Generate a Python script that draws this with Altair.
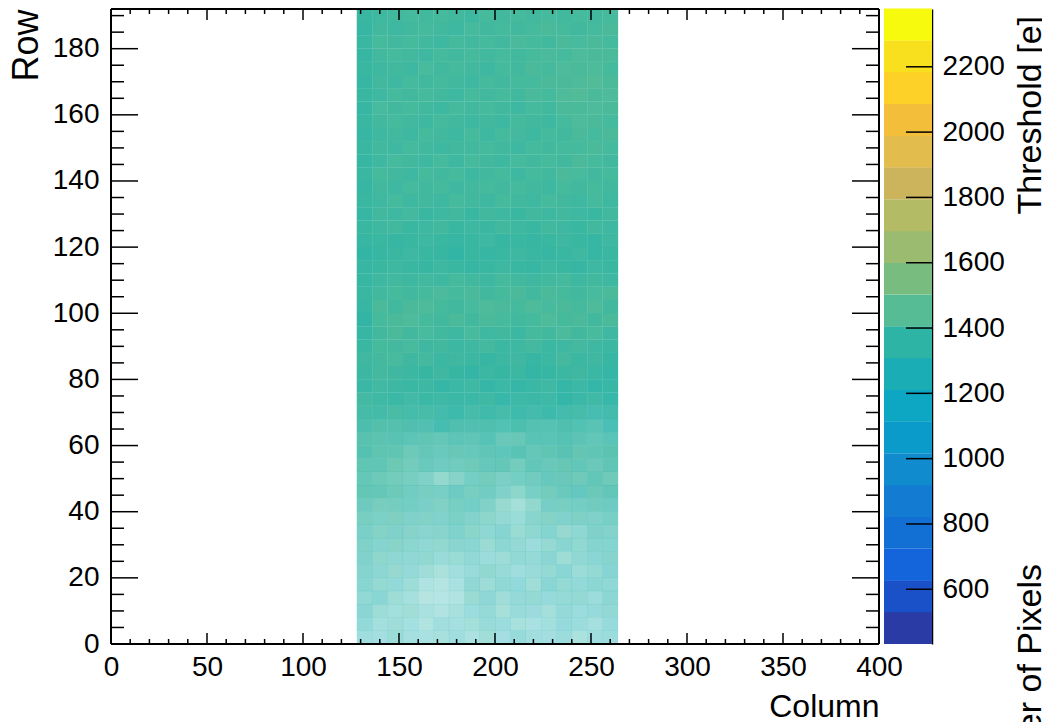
import altair as alt
import pandas as pd

# Colour bar: centre of each 20 band, with the colour
band_centres = [481, 578, 675, 773, 870, 967, 1065, 1162, 1259, 1356,
                1453, 1551, 1648, 1745, 1843, 1940, 2037, 2135, 2232, 2329]
band_colours = ["#2A3BA5", "#1A50C8", "#1464DC", "#1270D5", "#137CD2",
                "#0F8BCE", "#0A9BCA", "#0DA6C3", "#1BADB6", "#2EB4A4",
                "#55BC95", "#78BC80", "#9ABB70", "#B3BB64", "#CBB45C",
                "#E2BC4C", "#F3BE3A", "#FDD127", "#F9E01E", "#F8FA0D"]
bar_ticks = [600, 800, 1000, 1200, 1400, 1600, 1800, 2000, 2200]

# Pixel matrix summarised in blocks of 8 columns x 4 rows, bottom row first.
col_starts = list(range(128, 264, 8))
row_starts = list(range(0, 192, 4))

# Share of pixels in each block that have a value, percent
occupancy = [
    [42,40,46,40,38,40,42,38,44,40,46,42,40,44,38,42,44],
    [48,42,44,40,36,42,40,42,46,44,40,38,42,46,44,40,46],
    [52,46,42,44,38,36,40,44,48,42,46,44,42,48,44,46,50],
    [50,52,46,40,34,32,36,48,50,44,48,50,46,48,50,44,52],
    [54,50,48,46,36,34,38,50,46,50,48,44,52,50,48,52,50],
    [56,52,50,48,44,40,42,46,52,48,42,46,50,52,46,50,54],
    [58,54,52,50,52,46,48,50,44,46,50,48,52,46,50,52,56],
    [60,56,58,54,50,52,54,52,48,52,50,44,50,54,52,56,56],
    [62,60,60,58,54,56,58,56,52,54,48,52,56,50,52,60,58],
    [66,62,64,60,60,58,62,58,56,50,46,56,60,58,62,60,64],
    [70,68,68,66,62,62,66,64,60,50,42,52,64,66,66,70,68],
    [78,76,74,68,66,64,68,66,68,60,56,64,70,72,72,74,76],
    [76,74,70,66,60,52,58,66,70,64,66,70,72,74,72,76,72],
    [80,78,76,70,72,68,70,72,74,76,70,76,74,78,76,74,78],
    [84,82,80,74,76,72,76,74,78,76,80,76,80,82,80,78,82],
    [84,82,82,78,80,76,78,78,80,74,76,80,78,82,80,76,78],
    [88,88,86,86,84,88,86,84,86,82,86,84,82,86,82,80,84],
    [93,92,93,91,92,90,92,90,92,90,91,90,92,90,90,88,90],
    [96,96,96,95,96,95,95,95,96,95,95,95,95,96,94,94,95],
    [97,97,97,97,97,97,96,96,97,96,97,97,96,97,96,96,96],
    [98,98,98,98,98,98,98,98,98,98,98,98,98,98,98,97,97],
    [98,98,98,98,98,98,98,98,98,98,98,98,98,98,98,98,98],
    [99,99,98,98,98,99,98,98,98,98,99,98,98,98,98,98,98],
    [99,99,99,99,98,99,99,98,99,99,98,99,99,98,99,98,98],
    [99,99,99,99,99,99,99,99,99,99,99,99,99,99,99,99,99],
    [99,99,99,99,99,99,99,98,99,99,99,99,98,99,99,99,99],
    [99,99,99,99,99,98,99,99,99,99,99,99,99,99,99,98,99],
    [99,99,99,99,99,99,99,99,99,99,99,98,99,99,99,99,99],
    [99,99,99,99,99,99,99,99,99,99,99,99,99,99,99,99,99],
    [99,99,99,99,99,99,99,99,98,99,99,99,99,99,99,99,99],
    [99,99,99,99,99,99,99,99,99,99,99,99,99,99,99,99,99],
    [99,99,99,99,99,99,99,99,99,99,99,99,99,99,99,99,99],
    [99,99,99,98,99,99,99,99,99,99,99,99,99,99,99,99,99],
    [99,99,99,99,99,99,99,99,99,99,99,99,99,99,99,99,99],
    [99,99,99,99,99,99,98,99,99,99,99,99,99,99,99,99,99],
    [99,99,99,99,99,99,99,99,99,99,99,99,99,99,98,99,99],
    [99,99,99,99,99,99,99,99,99,99,99,99,99,99,99,99,99],
    [99,99,99,99,99,99,99,99,99,99,99,99,99,99,99,99,99],
    [99,99,99,99,99,99,99,99,99,99,98,99,99,99,99,99,99],
    [99,99,99,99,99,99,99,99,99,99,99,99,99,99,99,99,99],
    [99,98,99,99,99,99,99,99,99,99,99,99,99,99,99,99,99],
    [99,99,99,99,99,99,99,99,99,99,99,99,99,99,99,99,99],
    [99,99,99,99,99,99,99,99,99,99,99,99,99,99,99,99,99],
    [99,99,99,99,98,99,99,99,99,99,99,99,99,99,99,99,99],
    [99,99,99,99,99,99,99,99,99,99,99,99,99,99,99,99,99],
    [99,99,99,99,99,99,99,99,99,99,99,99,99,99,98,99,99],
    [99,99,99,99,99,99,99,99,99,99,99,99,99,99,99,99,99],
    [99,99,99,99,99,99,99,99,99,99,99,99,99,99,99,99,99],
]

# Mean threshold of each block in electrons, estimated from its colour
mean_threshold = [
    [1260,1230,1290,1270,1250,1300,1240,1280,1310,1230,1260,1280,1230,1260,1300,1230,1260],
    [1270,1290,1300,1250,1300,1270,1260,1310,1280,1250,1290,1250,1290,1240,1270,1280,1240],
    [1280,1310,1290,1320,1260,1290,1300,1250,1290,1320,1270,1240,1300,1280,1250,1260,1300],
    [1300,1270,1320,1280,1310,1260,1290,1320,1270,1300,1280,1310,1250,1290,1310,1270,1290],
    [1290,1320,1270,1310,1280,1300,1260,1290,1310,1280,1250,1300,1270,1310,1260,1290,1280],
    [1310,1290,1330,1280,1300,1320,1280,1270,1320,1300,1260,1280,1310,1270,1300,1310,1270],
    [1300,1330,1300,1290,1320,1280,1310,1300,1270,1310,1300,1290,1280,1320,1290,1270,1310],
    [1320,1300,1340,1310,1290,1330,1300,1280,1320,1290,1310,1270,1320,1290,1320,1300,1290],
    [1310,1340,1310,1330,1300,1320,1290,1330,1300,1280,1320,1310,1290,1330,1300,1320,1310],
    [1340,1320,1350,1310,1330,1300,1320,1310,1340,1310,1290,1320,1340,1300,1330,1310,1320],
    [1330,1350,1340,1320,1310,1340,1330,1300,1320,1340,1310,1330,1310,1340,1320,1340,1310],
    [1350,1340,1360,1330,1340,1320,1310,1340,1330,1310,1340,1320,1350,1330,1310,1350,1330],
    [1340,1360,1350,1340,1320,1340,1330,1320,1350,1330,1320,1340,1320,1340,1350,1330,1350],
    [1350,1340,1370,1350,1330,1320,1340,1350,1330,1340,1350,1330,1340,1360,1330,1350,1340],
    [1340,1360,1350,1360,1340,1330,1350,1330,1340,1320,1330,1340,1350,1340,1360,1340,1350],
    [1350,1350,1340,1330,1350,1340,1330,1340,1320,1340,1350,1330,1320,1330,1340,1330,1320],
    [1340,1360,1350,1340,1330,1320,1340,1330,1340,1320,1330,1340,1330,1340,1320,1330,1310],
    [1350,1340,1360,1340,1350,1330,1320,1340,1330,1340,1320,1330,1320,1330,1340,1320,1330],
    [1360,1350,1340,1350,1340,1340,1330,1330,1350,1320,1340,1330,1340,1320,1330,1340,1320],
    [1340,1360,1350,1340,1350,1330,1340,1350,1330,1340,1330,1340,1350,1330,1340,1320,1330],
    [1350,1370,1360,1350,1340,1360,1340,1330,1350,1340,1350,1330,1340,1350,1360,1340,1330],
    [1360,1370,1380,1360,1370,1350,1360,1350,1340,1350,1360,1340,1350,1370,1350,1360,1340],
    [1350,1380,1370,1380,1360,1370,1350,1360,1370,1350,1360,1370,1350,1360,1370,1360,1350],
    [1340,1370,1390,1370,1380,1370,1360,1380,1360,1370,1350,1380,1370,1390,1370,1380,1360],
    [1330,1380,1390,1400,1380,1370,1390,1370,1390,1380,1370,1380,1400,1380,1390,1370,1390],
    [1340,1390,1370,1390,1400,1380,1370,1380,1400,1390,1380,1400,1380,1390,1380,1400,1370],
    [1350,1370,1380,1370,1380,1390,1380,1390,1370,1380,1390,1370,1390,1380,1370,1380,1390],
    [1340,1360,1370,1360,1370,1360,1380,1370,1360,1380,1370,1360,1370,1380,1360,1370,1360],
    [1340,1350,1360,1350,1340,1360,1350,1340,1350,1360,1350,1340,1360,1350,1340,1360,1350],
    [1330,1340,1350,1360,1350,1340,1330,1350,1340,1350,1360,1350,1340,1350,1360,1340,1350],
    [1340,1350,1340,1350,1360,1350,1340,1350,1360,1340,1350,1340,1350,1360,1350,1340,1360],
    [1350,1360,1370,1350,1360,1370,1350,1360,1350,1370,1360,1350,1370,1360,1350,1370,1360],
    [1340,1370,1360,1370,1350,1360,1370,1350,1370,1360,1350,1370,1360,1370,1360,1350,1370],
    [1350,1360,1380,1360,1370,1360,1380,1370,1360,1380,1370,1360,1380,1370,1360,1380,1360],
    [1340,1370,1360,1380,1370,1380,1360,1370,1380,1370,1380,1370,1360,1380,1370,1380,1370],
    [1350,1380,1370,1360,1380,1370,1380,1360,1370,1380,1360,1380,1370,1390,1380,1370,1380],
    [1340,1360,1380,1370,1360,1380,1360,1380,1370,1360,1380,1370,1380,1370,1390,1380,1370],
    [1350,1370,1360,1380,1370,1360,1370,1370,1380,1370,1360,1380,1370,1380,1380,1390,1380],
    [1340,1360,1370,1360,1380,1370,1360,1380,1360,1380,1370,1360,1380,1370,1390,1380,1390],
    [1350,1370,1380,1370,1360,1380,1370,1360,1370,1360,1380,1370,1360,1380,1400,1390,1380],
    [1340,1380,1370,1380,1370,1360,1380,1370,1380,1370,1360,1380,1370,1390,1390,1400,1390],
    [1350,1360,1380,1370,1380,1370,1360,1380,1370,1380,1370,1390,1380,1400,1410,1390,1400],
    [1340,1370,1360,1380,1370,1380,1370,1360,1380,1370,1380,1380,1390,1390,1400,1410,1390],
    [1350,1360,1370,1360,1380,1370,1380,1370,1360,1380,1370,1390,1380,1400,1390,1400,1380],
    [1340,1370,1380,1370,1360,1380,1370,1380,1370,1380,1370,1380,1390,1380,1400,1390,1390],
    [1350,1380,1370,1380,1370,1360,1380,1370,1380,1370,1390,1380,1370,1390,1380,1390,1380],
    [1340,1370,1360,1370,1380,1370,1360,1380,1370,1380,1370,1380,1390,1380,1370,1380,1390],
    [1350,1360,1370,1380,1370,1380,1370,1360,1380,1370,1380,1370,1380,1370,1380,1370,1380],
]
# The blocks above were read slightly too blue against the bar; correction in electrons
colour_reading_correction = 30

x_major = [0, 50, 100, 150, 200, 250, 300, 350, 400]
x_minor = [v for v in range(0, 401, 10) if v % 50]
y_major = [0, 20, 40, 60, 80, 100, 120, 140, 160, 180]
y_minor = [v for v in range(0, 192, 5) if v % 20]

FONT = "Liberation Sans"
W, H = 768, 635

cells = pd.DataFrame([
    {"col": c, "col2": c + 8, "row": r, "row2": r + 4,
     "threshold": mean_threshold[i][j] + colour_reading_correction,
     "occupancy": occupancy[i][j]}
    for i, r in enumerate(row_starts) for j, c in enumerate(col_starts)
])
xscale = alt.Scale(domain=[0, 400], nice=False, zero=False)
yscale = alt.Scale(domain=[0, 192], nice=False, zero=False)
colour_scale = alt.Scale(domain=band_centres, range=band_colours)

heat = alt.Chart(cells).mark_rect(strokeWidth=0, x2Offset=0.25, y2Offset=-0.25).encode(
    x=alt.X("col:Q", scale=xscale, title="Column", axis=alt.Axis(
        values=x_major, titleAnchor="end", titleFont=FONT,
        titleFontSize=32, titleFontWeight="normal", titleColor="black",
        titlePadding=10, labelFont=FONT, labelFontSize=28, labelColor="black",
        labelPadding=9, tickSize=0, domain=False, grid=False, labelFlush=False,
        labelOverlap=False, format="d")),
    x2="col2:Q",
    y=alt.Y("row:Q", scale=yscale, title="Row", axis=alt.Axis(
        values=y_major, titleAnchor="end", titleFont=FONT,
        titleFontSize=36, titleFontWeight="normal", titleColor="black",
        titlePadding=7, labelFont=FONT, labelFontSize=28, labelColor="black",
        labelPadding=12, tickSize=0, domain=False, grid=False, labelFlush=False,
        labelOverlap=False, format="d")),
    y2="row2:Q",
    color=alt.Color("threshold:Q", scale=colour_scale, legend=None),
    opacity=alt.Opacity("occupancy:Q", scale=alt.Scale(domain=[0, 100], range=[0, 1]), legend=None),
)

def y_ticks(values, px):
    d = pd.DataFrame({"v": values})
    base = alt.Chart(d).mark_rule(color="black", strokeWidth=1.5)
    y = alt.Y("v:Q", scale=yscale, title="Row")
    return (base.encode(y=y, x=alt.value(0), x2=alt.value(px))
            + base.encode(y=y, x=alt.value(W - px), x2=alt.value(W)))

def x_ticks(values, px):
    d = pd.DataFrame({"v": values})
    base = alt.Chart(d).mark_rule(color="black", strokeWidth=1.5)
    x = alt.X("v:Q", scale=xscale, title="Column")
    return (base.encode(x=x, y=alt.value(H - px), y2=alt.value(H))
            + base.encode(x=x, y=alt.value(0), y2=alt.value(px)))

frame_base = alt.Chart(pd.DataFrame({"v": [0]})).mark_rule(color="black", strokeWidth=2)
frame = (frame_base.encode(x=alt.value(0), x2=alt.value(W), y=alt.value(0))
         + frame_base.encode(x=alt.value(0), x2=alt.value(W), y=alt.value(H))
         + frame_base.encode(y=alt.value(0), y2=alt.value(H), x=alt.value(0))
         + frame_base.encode(y=alt.value(0), y2=alt.value(H), x=alt.value(W)))

main = alt.layer(
    heat, y_ticks(y_major, 27), y_ticks(y_minor, 13),
    x_ticks(x_major, 11), x_ticks(x_minor, 5), frame,
).properties(width=W, height=H, view=alt.ViewConfig(stroke=None))

bar_scale = alt.Scale(domain=[432.4, 2377], nice=False, zero=False)
bands = pd.DataFrame({
    "lo": [c - 48.6 for c in band_centres],
    "hi": [c + 48.6 for c in band_centres],
    "threshold": band_centres,
})
bar = alt.Chart(bands).mark_rect(strokeWidth=0, y2Offset=-0.25).encode(
    x=alt.value(0), x2=alt.value(48),
    y=alt.Y("lo:Q", scale=bar_scale, title=None, axis=alt.Axis(
        orient="right", values=bar_ticks, labelFont=FONT,
        labelFontSize=28, labelColor="black", labelPadding=10, tickSize=0,
        domain=True, domainColor="black", domainWidth=1.5, grid=False,
        labelFlush=False, labelOverlap=False, format="d")),
    y2="hi:Q",
    color=alt.Color("threshold:Q", scale=colour_scale, legend=None),
)
bar_tick_rules = alt.Chart(pd.DataFrame({"v": bar_ticks})).mark_rule(
    color="black", strokeWidth=1.5
).encode(y=alt.Y("v:Q", scale=bar_scale, title=None), x=alt.value(22), x2=alt.value(48))

def side_title(text, y_px):
    return alt.Chart(pd.DataFrame({"t": [text]})).mark_text(
        font=FONT, fontSize=34, color="black", angle=270, align="right", baseline="middle"
    ).encode(text="t:N", x=alt.value(147), y=alt.value(y_px))

side = alt.layer(
    bar, bar_tick_rules, side_title("Threshold [e]", 7), side_title("Number of Pixels", 555)
).properties(width=48, height=H, view=alt.ViewConfig(stroke=None))

chart = alt.hconcat(main, side, spacing=5, bounds="flush").properties(
    padding={"left": 0, "top": 0, "right": -6, "bottom": 0}
).resolve_scale(color="independent", x="independent", y="independent")

chart.save("out.html", embed_options={"renderer": "svg", "actions": False})
